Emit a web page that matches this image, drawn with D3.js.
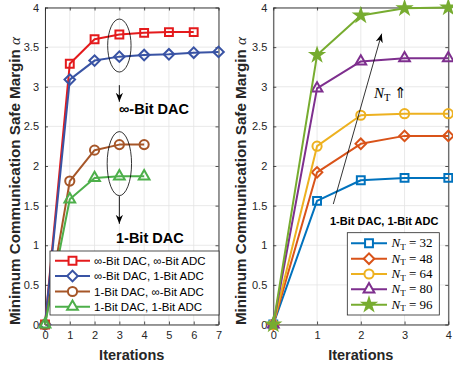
<!DOCTYPE html>
<html>
<head>
<meta charset="utf-8">
<script src="https://cdn.jsdelivr.net/npm/d3@7"></script>
<style>
  body { margin: 0; background: #fff; }
  svg { display: block; font-family: "Liberation Sans", Arial, sans-serif; }
</style>
</head>
<body>
<script>
// ---- data ----
var leftIter = [0, 1, 2, 3, 4, 5, 6, 7];
var leftNames = ["\u221E-Bit DAC, \u221E-Bit ADC", "\u221E-Bit DAC, 1-Bit ADC", "1-Bit DAC, \u221E-Bit ADC", "1-Bit DAC, 1-Bit ADC"];
var infDacInfAdc = [0, 3.29, 3.60, 3.66, 3.68, 3.69, 3.69];
var infDacOneAdc = [0, 3.09, 3.33, 3.38, 3.40, 3.41, 3.43, 3.44];
var oneDacInfAdc = [0, 1.81, 2.20, 2.27, 2.27];
var oneDacOneAdc = [0, 1.58, 1.85, 1.87, 1.87];

var rightIter = [0, 1, 2, 3, 4];
var ntValues = [32, 48, 64, 80, 96];
var nt32 = [0, 1.56, 1.82, 1.85, 1.85];
var nt48 = [0, 1.92, 2.28, 2.38, 2.38];
var nt64 = [0, 2.25, 2.64, 2.66, 2.66];
var nt80 = [0, 2.98, 3.32, 3.36, 3.36];
var nt96 = [0, 3.40, 3.90, 3.99, 4.00];

var yTicks = [0, 0.5, 1, 1.5, 2, 2.5, 3, 3.5, 4];

var W = 453, H = 373;
var svg = d3.select("body").append("svg")
    .attr("width", W).attr("height", H);

var defs = svg.append("defs");
defs.append("marker")
    .attr("id", "arrow")
    .attr("viewBox", "0 0 10 10")
    .attr("refX", 10).attr("refY", 5)
    .attr("markerWidth", 9).attr("markerHeight", 9)
    .attr("markerUnits", "userSpaceOnUse")
    .attr("orient", "auto")
    .append("path")
    .attr("d", "M0,1 L10,5 L0,9 L3,5 Z")
    .attr("fill", "#000");

var axisColor = "#262626";

// marker shapes, MATLAB-ish
function markerPath(kind) {
    if (kind == "square") return d3.symbol().type(d3.symbolSquare).size(62)();
    if (kind == "diamond") return d3.symbol().type(d3.symbolSquare).size(56)();
    if (kind == "circle") return d3.symbol().type(d3.symbolCircle).size(66)();
    if (kind == "triangle") return d3.symbol().type(d3.symbolTriangle).size(50)();
    if (kind == "star") return d3.symbol().type(d3.symbolStar).size(46)();
}

function drawPanel(opts) {
    var x = d3.scaleLinear().domain(opts.xDomain).range(opts.xRange);
    var y = d3.scaleLinear().domain([0, 4]).range([324.5, 7.5]);
    var g = svg.append("g");

    // grid
    g.selectAll(".gx").data(opts.xTicks).enter().append("line")
        .attr("x1", d => x(d)).attr("x2", d => x(d))
        .attr("y1", y(0)).attr("y2", y(4))
        .attr("stroke", "#e3e3e3").attr("stroke-width", 0.8);
    g.selectAll(".gy").data(yTicks).enter().append("line")
        .attr("x1", x.range()[0]).attr("x2", x.range()[1])
        .attr("y1", d => y(d)).attr("y2", d => y(d))
        .attr("stroke", "#e3e3e3").attr("stroke-width", 0.8);

    // axes with inward ticks, box on
    var xb = g.append("g").attr("transform", "translate(0," + y(0) + ")")
        .call(d3.axisBottom(x).tickValues(opts.xTicks).tickSizeInner(-3).tickSizeOuter(0).tickPadding(7).tickFormat(d3.format("d")));
    var xt = g.append("g").attr("transform", "translate(0," + y(4) + ")")
        .call(d3.axisTop(x).tickValues(opts.xTicks).tickSizeInner(-3).tickSizeOuter(0).tickFormat(""));
    var yl = g.append("g").attr("transform", "translate(" + x.range()[0] + ",0)")
        .call(d3.axisLeft(y).tickValues(yTicks).tickSizeInner(-3).tickSizeOuter(0).tickPadding(6).tickFormat(d3.format("")));
    var yr = g.append("g").attr("transform", "translate(" + x.range()[1] + ",0)")
        .call(d3.axisRight(y).tickValues(yTicks).tickSizeInner(-3).tickSizeOuter(0).tickFormat(""));
    [xb, xt, yl, yr].forEach(function (a) {
        a.select(".domain").attr("stroke", axisColor).attr("stroke-width", 0.9);
        a.selectAll(".tick line").attr("stroke", axisColor).attr("stroke-width", 0.8);
        a.selectAll(".tick text").attr("fill", axisColor)
            .style("font-family", "'Liberation Sans', Arial, sans-serif").style("font-size", "11px");
    });

    // series
    var line = d3.line().x((d, i) => x(i)).y(d => y(d));
    opts.series.forEach(function (s) {
        g.append("path").datum(s.values)
            .attr("d", line)
            .attr("fill", "none").attr("stroke", s.color)
            .attr("stroke-width", 2).attr("stroke-linejoin", "round");
        g.selectAll(null).data(s.values).enter().append("path")
            .attr("d", markerPath(s.marker))
            .attr("transform", (d, i) => "translate(" + x(i) + "," + y(d) + ")" + (s.marker == "diamond" ? " rotate(45)" : ""))
            .attr("fill", s.marker == "star" ? s.color : "none")
            .attr("stroke", s.color).attr("stroke-width", 2);
    });

    // axis labels
    var cx = (x.range()[0] + x.range()[1]) / 2;
    g.append("text").attr("x", cx).attr("y", 360)
        .attr("text-anchor", "middle").attr("font-weight", "bold")
        .attr("font-size", "14.5px").attr("fill", "#262626").text("Iterations");
    var yt = g.append("text")
        .attr("transform", "translate(" + opts.ylabelX + ",181) rotate(-90)")
        .attr("text-anchor", "middle").attr("font-weight", "bold")
        .attr("font-size", "15.2px").attr("fill", "#262626");
    yt.append("tspan").text("Minimum Communication Safe Margin ");
    yt.append("tspan").attr("font-family", "'Liberation Serif', serif").attr("font-style", "italic")
        .attr("font-weight", "normal").text("\u03B1");

    return {x: x, y: y, g: g};
}

function drawLegend(g, series, box, rowY, lineX, textX, labelFn) {
    g.append("rect").attr("x", box[0]).attr("y", box[1]).attr("width", box[2]).attr("height", box[3])
        .attr("fill", "#fff").attr("stroke", "#262626").attr("stroke-width", 0.8);
    series.forEach(function (s, i) {
        var yy = rowY[i];
        g.append("line").attr("x1", lineX[0]).attr("x2", lineX[1]).attr("y1", yy).attr("y2", yy)
            .attr("stroke", s.color).attr("stroke-width", 2);
        g.append("path").attr("d", markerPath(s.marker))
            .attr("transform", "translate(" + (lineX[0] + lineX[1]) / 2 + "," + yy + ")" + (s.marker == "diamond" ? " rotate(45)" : ""))
            .attr("fill", s.marker == "star" ? s.color : "#fff")
            .attr("stroke", s.color).attr("stroke-width", 2);
        labelFn(g.append("text").attr("x", textX).attr("y", yy + 4), s, i);
    });
}

// ---- left panel ----
var leftSeries = [
    {values: infDacInfAdc, color: "#e41a1c", marker: "square"},
    {values: infDacOneAdc, color: "#3953a4", marker: "diamond"},
    {values: oneDacInfAdc, color: "#a65628", marker: "circle"},
    {values: oneDacOneAdc, color: "#4daf4a", marker: "triangle"}
];
var L = drawPanel({xDomain: [0, 7], xRange: [45, 218.5], xTicks: leftIter, series: leftSeries, ylabelX: 19.5});

// ellipses and arrows
[[3.52, 26.5, 11.7, 3.02, 2.81], [2.03, 32, 12.2, 1.62, 1.27]].forEach(function (a) {
    L.g.append("ellipse").attr("cx", L.x(3)).attr("cy", L.y(a[0]))
        .attr("rx", a[2]).attr("ry", a[1])
        .attr("fill", "none").attr("stroke", "#000").attr("stroke-width", 0.8);
    L.g.append("line").attr("x1", L.x(3)).attr("x2", L.x(3))
        .attr("y1", L.y(a[3])).attr("y2", L.y(a[4]))
        .attr("stroke", "#000").attr("stroke-width", 0.9).attr("marker-end", "url(#arrow)");
});
L.g.append("text").attr("x", 119).attr("y", 114).attr("font-weight", "bold").attr("font-size", "14.5px")
    .text("\u221E-Bit DAC");
L.g.append("text").attr("x", 116).attr("y", 243).attr("font-weight", "bold").attr("font-size", "14.5px")
    .text("1-Bit DAC");

drawLegend(L.g, leftSeries, [50, 251, 169, 64], [260.7, 276, 291.5, 306.7], [55, 90], 94, function (t, s, i) {
    t.attr("font-size", "11.5px").attr("fill", "#000").text(leftNames[i]);
});

// ---- right panel ----
var rightSeries = [
    {values: nt32, color: "#0072bd", marker: "square"},
    {values: nt48, color: "#d95319", marker: "diamond"},
    {values: nt64, color: "#edb120", marker: "circle"},
    {values: nt80, color: "#7e2f8e", marker: "triangle"},
    {values: nt96, color: "#77ac30", marker: "star"}
];
var R = drawPanel({xDomain: [0, 4], xRange: [273.3, 448.3], xTicks: rightIter, series: rightSeries, ylabelX: 246});

R.g.append("line").attr("x1", 333.3).attr("y1", R.y(1.52)).attr("x2", 381.7).attr("y2", R.y(3.67))
    .attr("stroke", "#000").attr("stroke-width", 0.8).attr("marker-end", "url(#arrow)");
var nt = R.g.append("text").attr("x", 374).attr("y", 98)
    .attr("font-family", "'Liberation Serif', serif").attr("font-size", "15px");
nt.append("tspan").attr("font-style", "italic").text("N");
nt.append("tspan").attr("font-size", "10.5px").attr("dy", 3).text("T");
nt.append("tspan").attr("dy", -3).text(" \u21D1");

R.g.append("text").attr("x", 330).attr("y", 225).attr("font-weight", "bold").attr("font-size", "11px")
    .text("1-Bit DAC, 1-Bit ADC");

drawLegend(R.g, rightSeries, [347.3, 232.7, 92, 82.3], [243.3, 258.7, 274, 289.3, 304.7], [351, 387], 391.5, function (t, s, i) {
    t.attr("font-family", "'Liberation Serif', serif").attr("font-size", "13px");
    t.append("tspan").attr("font-style", "italic").text("N");
    t.append("tspan").attr("font-size", "9px").attr("dy", 2.5).text("T");
    t.append("tspan").attr("dy", -2.5).text(" = " + ntValues[i]);
});
</script>
</body>
</html>
